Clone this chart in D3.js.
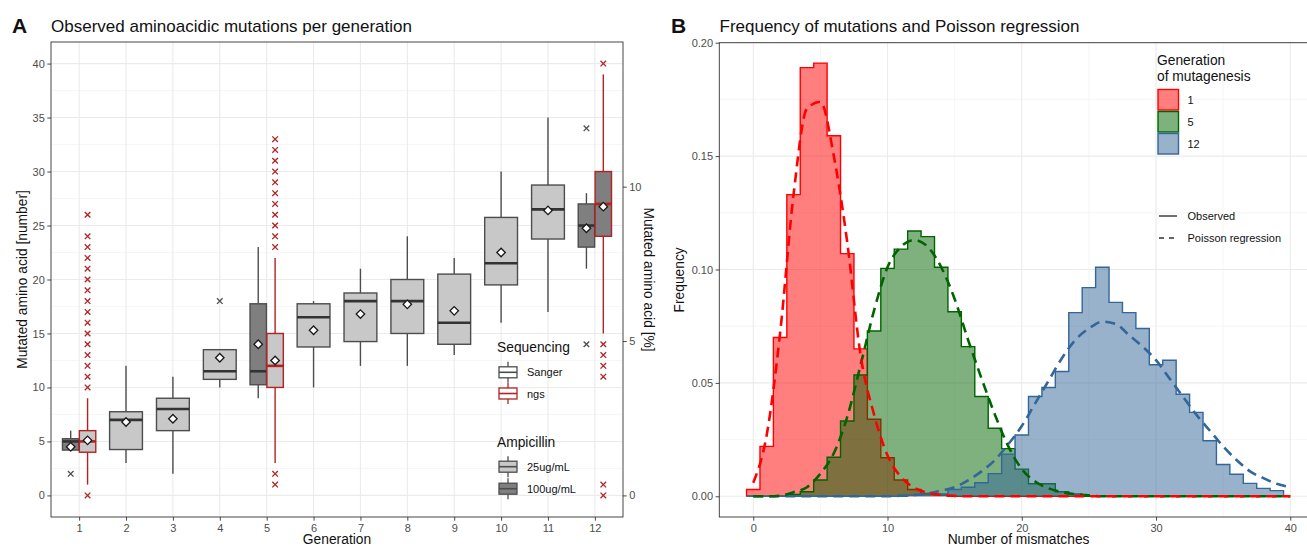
<!DOCTYPE html>
<html>
<head>
<meta charset="utf-8">
<script src="https://cdn.jsdelivr.net/npm/d3@7"></script>
<style>
  body { margin: 0; background: #fff; }
  svg { font-family: "Liberation Sans", Arial, sans-serif; }
  .tick text { fill: #4d4d4d; font-size: 11px; }
  .tick line { stroke: #333; }
</style>
</head>
<body>
<div id="chart"></div>
<script>
// ---------------- Panel A: box statistics, one entry per box ----------------
const boxGen  = [1, 1, 2, 3, 4, 5, 5, 6, 7, 8, 9, 10, 11, 12, 12];
const boxSeq  = ["Sanger", "ngs", "Sanger", "Sanger", "Sanger", "Sanger", "ngs", "Sanger",
                 "Sanger", "Sanger", "Sanger", "Sanger", "Sanger", "Sanger", "ngs"];
const boxAmp  = ["100", "25", "25", "25", "25", "100", "25", "25", "25", "25", "25", "25", "25", "100", "100"];
const boxLow  = [4.2, 1, 3, 2, 10, 9, 3, 10, 12, 12, 13, 16, 17, 21, 15];
const boxQ1   = [4.2, 4, 4.25, 6, 10.75, 10.25, 10, 13.75, 14.25, 15, 14, 19.5, 23.75, 23, 24];
const boxMed  = [5, 5, 7, 8, 11.5, 11.5, 12, 16.5, 18, 18, 16, 21.5, 26.5, 25, 27];
const boxQ3   = [5.25, 6, 7.75, 9, 13.5, 17.75, 15, 17.75, 18.75, 20, 20.5, 25.75, 28.75, 27, 30];
const boxHigh = [6, 9, 12, 11, 13.5, 23, 22, 18, 21, 24, 22, 30, 35, 28, 39];
const boxMean = [4.5, 5.1, 6.8, 7.1, 12.75, 14, 12.5, 15.3, 16.8, 17.7, 17.1, 22.5, 26.4, 24.75, 26.75];
const boxOut  = [
  [2],
  [0, 10, 11, 12, 13, 14, 15, 16, 17, 18, 19, 20, 21, 22, 23, 24, 26],
  [], [], [18], [],
  [1, 2, 23, 24, 25, 26, 27, 28, 29, 30, 31, 32, 33],
  [], [], [], [], [], [],
  [14, 34],
  [0, 1, 11, 12, 13, 14, 40]
];
const generations = [1, 2, 3, 4, 5, 6, 7, 8, 9, 10, 11, 12];
const yTicksA = [0, 5, 10, 15, 20, 25, 30, 35, 40];
const pctTicks = [0, 5, 10];
const aaPerPercent = 2.86;   // number of residues per 1 % of the protein

// ---------------- Panel B: histogram frequencies (bins 0..39) ----------------
const freqGen1 = [0.003, 0.022, 0.070, 0.133, 0.189, 0.191, 0.159, 0.107, 0.065, 0.034,
  0.017, 0.0072, 0.003, 0.0013, 0.0005, 0, 0, 0, 0, 0,
  0, 0, 0, 0, 0, 0, 0, 0, 0, 0,
  0, 0, 0, 0, 0, 0, 0, 0, 0, 0];
const freqGen5 = [0, 0, 0, 0.0008, 0.002, 0.0072, 0.0172, 0.0332, 0.0535, 0.0729,
  0.1005, 0.109, 0.117, 0.1145, 0.101, 0.0814, 0.066, 0.044, 0.030, 0.021,
  0.012, 0.0055, 0.0055, 0.002, 0.001, 0, 0, 0, 0, 0,
  0, 0, 0, 0, 0, 0, 0, 0, 0, 0];
const freqGen12 = [0, 0, 0, 0, 0, 0, 0, 0, 0, 0,
  0, 0, 0.0005, 0.001, 0.001, 0.003, 0.004, 0.006, 0.010, 0.0186,
  0.027, 0.044, 0.048, 0.055, 0.081, 0.092, 0.101, 0.0855, 0.081, 0.074,
  0.058, 0.060, 0.045, 0.037, 0.0245, 0.014, 0.0097, 0.0057, 0.0035, 0.0025];
// Poisson regression read at 0..40 mismatches
const poisGen1 = [0.006, 0.027, 0.072, 0.133, 0.171, 0.174, 0.150, 0.112, 0.062, 0.036,
  0.018, 0.0085, 0.0037, 0.0015, 0.0006, 0.0002, 0, 0, 0, 0,
  0, 0, 0, 0, 0, 0, 0, 0, 0, 0,
  0, 0, 0, 0, 0, 0, 0, 0, 0, 0, 0];
const poisGen5 = [0, 0, 0.0003, 0.0018, 0.004, 0.010, 0.019, 0.035, 0.058, 0.082,
  0.101, 0.110, 0.113, 0.110, 0.101, 0.087, 0.069, 0.052, 0.036, 0.022,
  0.012, 0.0065, 0.0035, 0.0018, 0.0009, 0.0004, 0, 0, 0, 0,
  0, 0, 0, 0, 0, 0, 0, 0, 0, 0, 0];
const poisGen12 = [0, 0, 0, 0, 0, 0, 0, 0, 0, 0,
  0, 0.0003, 0.0006, 0.0012, 0.0025, 0.004, 0.007, 0.011, 0.016, 0.023,
  0.031, 0.041, 0.051, 0.061, 0.069, 0.074, 0.077, 0.076, 0.071, 0.066,
  0.060, 0.052, 0.044, 0.036, 0.029, 0.022, 0.016, 0.011, 0.008, 0.0055, 0.004];
const histGroups = ["1", "5", "12"];
const histColours = ["#ff0000", "#006400", "#336699"];
const xTicksB = [0, 10, 20, 30, 40];
const yTicksB = [0, 0.05, 0.10, 0.15, 0.20];

const W = 1307, H = 551;
const svg = d3.select("#chart").append("svg").attr("width", W).attr("height", H);
svg.append("rect").attr("width", W).attr("height", H).attr("fill", "#fff");

function styleAxis(g) {
  g.select(".domain").remove();
  g.selectAll(".tick line").attr("stroke", "#333").attr("stroke-width", 0.9);
}

// ================= PANEL A =================
const A = { left: 51, right: 623, top: 42, bottom: 517 };
const xA = d3.scaleLinear().domain([0.4, 12.6]).range([A.left, A.right]);
const yA = d3.scaleLinear().domain([-2, 42]).range([A.bottom, A.top]);
const yPct = d3.scaleLinear()
  .domain(yA.domain().map(v => v / aaPerPercent))
  .range([A.bottom, A.top]);

const gridA = svg.append("g");
gridA.selectAll(".minor")
  .data(d3.range(2.5, 40, 5))
  .join("line")
  .attr("x1", A.left).attr("x2", A.right)
  .attr("y1", d => yA(d)).attr("y2", d => yA(d))
  .attr("stroke", "#f2f2f2").attr("stroke-width", 0.7);
gridA.selectAll(".majorY")
  .data(yTicksA)
  .join("line")
  .attr("x1", A.left).attr("x2", A.right)
  .attr("y1", d => yA(d)).attr("y2", d => yA(d))
  .attr("stroke", "#ebebeb").attr("stroke-width", 1.1);
gridA.selectAll(".majorX")
  .data(generations)
  .join("line")
  .attr("x1", d => xA(d)).attr("x2", d => xA(d))
  .attr("y1", A.top).attr("y2", A.bottom)
  .attr("stroke", "#ebebeb").attr("stroke-width", 1.1);

const seqColour = { Sanger: "#4d4d4d", ngs: "#b22222" };
const ampFill = { "25": "#c8c8c8", "100": "#7f7f7f" };

const boxes = boxGen.map((g, i) => {
  const n = boxGen.filter(v => v === g).length;
  let off = 0;
  if (n > 1) off = boxSeq[i] === "Sanger" ? -0.18 : 0.18;
  return {
    gen: g, seq: boxSeq[i], amp: boxAmp[i], low: boxLow[i], q1: boxQ1[i], med: boxMed[i],
    q3: boxQ3[i], high: boxHigh[i], mean: boxMean[i], out: boxOut[i],
    cx: xA(g + off), w: xA(n > 1 ? 0.35 : 0.7) - xA(0)
  };
});

const marksA = svg.append("g");
const boxG = marksA.selectAll(".box").data(boxes).join("g").attr("class", "box");

boxG.append("line")
  .attr("x1", d => d.cx).attr("x2", d => d.cx)
  .attr("y1", d => yA(d.high)).attr("y2", d => yA(d.q3))
  .attr("stroke", d => seqColour[d.seq]).attr("stroke-width", 1.4);
boxG.append("line")
  .attr("x1", d => d.cx).attr("x2", d => d.cx)
  .attr("y1", d => yA(d.q1)).attr("y2", d => yA(d.low))
  .attr("stroke", d => seqColour[d.seq]).attr("stroke-width", 1.4);
boxG.append("rect")
  .attr("x", d => d.cx - d.w / 2).attr("width", d => d.w)
  .attr("y", d => yA(d.q3)).attr("height", d => yA(d.q1) - yA(d.q3))
  .attr("fill", d => ampFill[d.amp])
  .attr("stroke", d => seqColour[d.seq]).attr("stroke-width", 1.4);
boxG.append("line")
  .attr("x1", d => d.cx - d.w / 2).attr("x2", d => d.cx + d.w / 2)
  .attr("y1", d => yA(d.med)).attr("y2", d => yA(d.med))
  .attr("stroke", d => d.seq === "ngs" ? "#b22222" : "#333").attr("stroke-width", 2.6);

const crossPath = "M-2.8,-2.8L2.8,2.8M-2.8,2.8L2.8,-2.8";
boxG.selectAll(".outlier")
  .data(d => d.out.map(v => ({ v, cx: d.cx, seq: d.seq })))
  .join("path")
  .attr("class", "outlier")
  .attr("d", crossPath)
  .attr("transform", d => `translate(${d.cx},${yA(d.v)})`)
  .attr("stroke", d => seqColour[d.seq]).attr("stroke-width", 1.3).attr("fill", "none");

boxG.append("path")
  .attr("d", d3.symbol(d3.symbolSquare, 36)())
  .attr("transform", d => `translate(${d.cx},${yA(d.mean)}) rotate(45)`)
  .attr("fill", "#fff").attr("stroke", "#1a1a1a").attr("stroke-width", 1.3);

svg.append("rect")
  .attr("x", A.left).attr("y", A.top)
  .attr("width", A.right - A.left).attr("height", A.bottom - A.top)
  .attr("fill", "none").attr("stroke", "#333").attr("stroke-width", 0.9);

svg.append("g")
  .attr("transform", `translate(${A.left},0)`)
  .call(d3.axisLeft(yA).tickValues(yTicksA).tickSize(3.7).tickPadding(2.5))
  .call(styleAxis);
svg.append("g")
  .attr("transform", `translate(${A.right},0)`)
  .call(d3.axisRight(yPct).tickValues(pctTicks).tickSize(3.7).tickPadding(2.5))
  .call(styleAxis);
svg.append("g")
  .attr("transform", `translate(0,${A.bottom})`)
  .call(d3.axisBottom(xA).tickValues(generations).tickFormat(d3.format("d")).tickSize(3.7).tickPadding(3))
  .call(styleAxis);

svg.append("text").attr("x", 12).attr("y", 32.5)
  .attr("font-size", 21).attr("font-weight", "bold").attr("fill", "#111").text("A");
svg.append("text").attr("x", 51).attr("y", 32)
  .attr("font-size", 17).attr("fill", "#111").text("Observed aminoacidic mutations per generation");
svg.append("text").attr("x", (A.left + A.right) / 2).attr("y", 544)
  .attr("text-anchor", "middle").attr("font-size", 13.8).attr("fill", "#111").text("Generation");
svg.append("text")
  .attr("transform", `translate(27,${(A.top + A.bottom) / 2}) rotate(-90)`)
  .attr("text-anchor", "middle").attr("font-size", 13.8).attr("fill", "#111")
  .text("Mutated amino acid [number]");
svg.append("text")
  .attr("transform", `translate(644,${(A.top + A.bottom) / 2}) rotate(90)`)
  .attr("text-anchor", "middle").attr("font-size", 13.8).attr("fill", "#111")
  .text("Mutated amino acid [%]");

// legend A
const legA = svg.append("g");
function boxKey(g, cy, stroke, fill) {
  g.append("line").attr("x1", 508).attr("x2", 508).attr("y1", cy - 10.5).attr("y2", cy + 10.5)
    .attr("stroke", stroke).attr("stroke-width", 1.3);
  g.append("rect").attr("x", 499).attr("y", cy - 5.5).attr("width", 18).attr("height", 11)
    .attr("fill", fill).attr("stroke", stroke).attr("stroke-width", 1.3);
  g.append("line").attr("x1", 499).attr("x2", 517).attr("y1", cy).attr("y2", cy)
    .attr("stroke", stroke).attr("stroke-width", 1.6);
}
legA.append("text").attr("x", 497).attr("y", 352).attr("font-size", 13.8).attr("fill", "#111").text("Sequencing");
[["Sanger", 372.3], ["ngs", 393.5]].forEach(([k, cy]) => {
  boxKey(legA, cy, seqColour[k], "#fff");
  legA.append("text").attr("x", 527).attr("y", cy + 4).attr("font-size", 11).attr("fill", "#111").text(k);
});
legA.append("text").attr("x", 497).attr("y", 446.5).attr("font-size", 13.8).attr("fill", "#111").text("Ampicillin");
[["25", 466.7], ["100", 488.7]].forEach(([k, cy]) => {
  boxKey(legA, cy, "#4d4d4d", ampFill[k]);
  legA.append("text").attr("x", 527).attr("y", cy + 4).attr("font-size", 11).attr("fill", "#111").text(k + "ug/mL");
});

// ================= PANEL B =================
const B = { left: 719.3, right: 1317.8, top: 42.7, bottom: 517 };
const xB = d3.scaleLinear().domain([-2.53, 42.05]).range([B.left, B.right]);
const yB = d3.scaleLinear().domain([-0.00913, 0.2]).range([B.bottom, B.top]);

const gridB = svg.append("g");
gridB.selectAll(".minorX").data([5, 15, 25, 35]).join("line")
  .attr("x1", d => xB(d)).attr("x2", d => xB(d)).attr("y1", B.top).attr("y2", B.bottom)
  .attr("stroke", "#f2f2f2").attr("stroke-width", 0.7);
gridB.selectAll(".minorY").data([0.025, 0.075, 0.125, 0.175]).join("line")
  .attr("x1", B.left).attr("x2", B.right).attr("y1", d => yB(d)).attr("y2", d => yB(d))
  .attr("stroke", "#f2f2f2").attr("stroke-width", 0.7);
gridB.selectAll(".majorX").data(xTicksB).join("line")
  .attr("x1", d => xB(d)).attr("x2", d => xB(d)).attr("y1", B.top).attr("y2", B.bottom)
  .attr("stroke", "#ebebeb").attr("stroke-width", 1.1);
gridB.selectAll(".majorY").data(yTicksB).join("line")
  .attr("x1", B.left).attr("x2", B.right).attr("y1", d => yB(d)).attr("y2", d => yB(d))
  .attr("stroke", "#ebebeb").attr("stroke-width", 1.1);

const histData = [freqGen1, freqGen5, freqGen12];
const poisData = [poisGen1, poisGen5, poisGen12];

const area = d3.area().curve(d3.curveStepAfter)
  .x(d => xB(d.x)).y0(yB(0)).y1(d => yB(d.y));
const step = d3.line().curve(d3.curveStepAfter)
  .x(d => xB(d.x)).y(d => yB(d.y));
const smooth = d3.line().curve(d3.curveMonotoneX)
  .x((d, i) => xB(i)).y(d => yB(d));

const marksB = svg.append("g");
histData.forEach((vals, gi) => {
  const pts = vals.map((v, i) => ({ x: i - 0.5, y: v }));
  pts.push({ x: vals.length - 0.5, y: vals[vals.length - 1] });
  marksB.append("path").attr("d", area(pts))
    .attr("fill", histColours[gi]).attr("fill-opacity", 0.5);
  const outline = [{ x: -0.5, y: 0 }, ...pts, { x: vals.length - 0.5, y: 0 }];
  marksB.append("path").attr("d", step(outline))
    .attr("fill", "none").attr("stroke", histColours[gi]).attr("stroke-width", 1.4);
});
[2, 1, 0].forEach(gi => {
  marksB.append("path").attr("d", smooth(poisData[gi]))
    .attr("fill", "none").attr("stroke", histColours[gi])
    .attr("stroke-width", 2.6).attr("stroke-dasharray", "10,6");
});

svg.append("rect")
  .attr("x", B.left).attr("y", B.top)
  .attr("width", B.right - B.left).attr("height", B.bottom - B.top)
  .attr("fill", "none").attr("stroke", "#333").attr("stroke-width", 0.9);

svg.append("g")
  .attr("transform", `translate(${B.left},0)`)
  .call(d3.axisLeft(yB).tickValues(yTicksB).tickFormat(d3.format(".2f")).tickSize(3.7).tickPadding(2.5))
  .call(styleAxis);
svg.append("g")
  .attr("transform", `translate(0,${B.bottom})`)
  .call(d3.axisBottom(xB).tickValues(xTicksB).tickSize(3.7).tickPadding(3))
  .call(styleAxis);

svg.append("text").attr("x", 671).attr("y", 32.5)
  .attr("font-size", 21).attr("font-weight", "bold").attr("fill", "#111").text("B");
svg.append("text").attr("x", 719.5).attr("y", 32)
  .attr("font-size", 17).attr("fill", "#111").text("Frequency of mutations and Poisson regression");
svg.append("text").attr("x", (B.left + B.right) / 2).attr("y", 544)
  .attr("text-anchor", "middle").attr("font-size", 13.8).attr("fill", "#111").text("Number of mismatches");
svg.append("text")
  .attr("transform", `translate(684,${(B.top + B.bottom) / 2}) rotate(-90)`)
  .attr("text-anchor", "middle").attr("font-size", 13.8).attr("fill", "#111").text("Frequency");

// legend B
const legB = svg.append("g");
legB.append("text").attr("x", 1157).attr("y", 65).attr("font-size", 13.8).attr("fill", "#111").text("Generation");
legB.append("text").attr("x", 1157).attr("y", 80.5).attr("font-size", 13.8).attr("fill", "#111").text("of mutagenesis");
histGroups.forEach((g, i) => {
  const top = 89.5 + i * 22;
  legB.append("rect").attr("x", 1158).attr("y", top).attr("width", 20.5).attr("height", 20.5)
    .attr("fill", histColours[i]).attr("fill-opacity", 0.5)
    .attr("stroke", histColours[i]).attr("stroke-width", 1.4);
  legB.append("text").attr("x", 1187.5).attr("y", top + 14.5).attr("font-size", 11).attr("fill", "#111").text(g);
});
[["Observed", null, 216], ["Poisson regression", "5,5", 238]].forEach(([label, dash, cy]) => {
  legB.append("line").attr("x1", 1159).attr("x2", 1177).attr("y1", cy).attr("y2", cy)
    .attr("stroke", "#333").attr("stroke-width", 1.4).attr("stroke-dasharray", dash);
  legB.append("text").attr("x", 1187.5).attr("y", cy + 4).attr("font-size", 11).attr("fill", "#111").text(label);
});
</script>
</body>
</html>
